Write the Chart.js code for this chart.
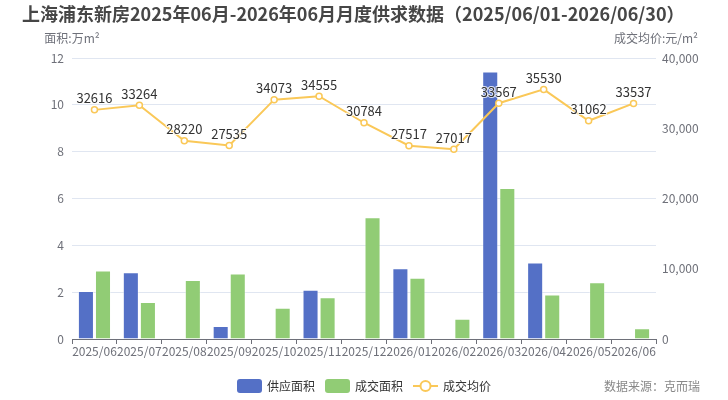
<!DOCTYPE html>
<html>
<head>
<meta charset="utf-8">
<script src="https://cdn.jsdelivr.net/npm/chart.js@4/dist/chart.umd.min.js"></script>
<style>
    html, body { margin: 0; padding: 0; background: #fff; }
    #wrap { width: 728px; height: 400px; }
</style>
</head>
<body>
<div id="wrap"><canvas id="myChart" width="728" height="400"></canvas></div>
<script>
const months = ['2025/06', '2025/07', '2025/08', '2025/09', '2025/10', '2025/11', '2025/12',
    '2026/01', '2026/02', '2026/03', '2026/04', '2026/05', '2026/06']
const supplyArea = [2.05, 2.85, 0, 0.56, 0.02, 2.1, 0.02, 3.02, 0, 11.42, 3.27, 0, 0]
const dealArea = [2.92, 1.58, 2.52, 2.8, 1.33, 1.78, 5.2, 2.62, 0.86, 6.45, 1.9, 2.42, 0.46]
const avgPrice = [32616, 33264, 28220, 27535, 34073, 34555, 30784, 27517, 27017, 33567, 35530, 31062, 33537]

const titleText = '上海浦东新房2025年06月-2026年06月月度供求数据（2025/06/01-2026/06/30）'
const fontFamily = '"Noto Sans CJK SC", "Noto Sans", sans-serif'
const BLUE = '#5470c6'
const GREEN = '#91cc75'
const YELLOW = '#fac858'
const AXIS_TXT = '#6e7079'

// title, axis names, point labels, legend and source note
const decorPlugin = {
    id: 'decor',
    afterDatasetsDraw(chart) {
        const ctx = chart.ctx
        ctx.save()

        // labels above line points
        const meta = chart.getDatasetMeta(2)
        ctx.font = '13px ' + fontFamily
        ctx.textAlign = 'center'
        ctx.textBaseline = 'bottom'
        meta.data.forEach((pt, i) => {
            ctx.lineWidth = 2
            ctx.strokeStyle = 'rgba(255,255,255,0.8)'
            ctx.strokeText(avgPrice[i], pt.x, pt.y - 5)
            ctx.fillStyle = '#333'
            ctx.fillText(avgPrice[i], pt.x, pt.y - 5)
        })
        ctx.restore()
    },
    afterDraw(chart) {
        const ctx = chart.ctx
        const area = chart.chartArea
        ctx.save()

        ctx.fillStyle = '#464646'
        ctx.font = 'bold 18px ' + fontFamily
        ctx.textAlign = 'left'
        ctx.textBaseline = 'middle'
        ctx.fillText(titleText, 22, 14)

        ctx.fillStyle = AXIS_TXT
        ctx.font = '12px ' + fontFamily
        ctx.textAlign = 'center'
        ctx.fillText('面积:万m²', area.left, 38)
        ctx.fillText('成交均价:元/m²', area.right, 38)

        // legend
        const ly = 386
        ctx.textAlign = 'left'
        ctx.fillStyle = BLUE
        ctx.beginPath()
        ctx.roundRect(237, ly - 7, 25, 14, 3)
        ctx.fill()
        ctx.fillStyle = '#333'
        ctx.fillText('供应面积', 267, ly)

        ctx.fillStyle = GREEN
        ctx.beginPath()
        ctx.roundRect(325, ly - 7, 25, 14, 3)
        ctx.fill()
        ctx.fillStyle = '#333'
        ctx.fillText('成交面积', 355, ly)

        ctx.strokeStyle = YELLOW
        ctx.lineWidth = 2
        ctx.beginPath()
        ctx.moveTo(413, ly)
        ctx.lineTo(438, ly)
        ctx.stroke()
        ctx.fillStyle = '#fff'
        ctx.beginPath()
        ctx.arc(425.5, ly, 5, 0, Math.PI * 2)
        ctx.fill()
        ctx.stroke()
        ctx.fillStyle = '#333'
        ctx.fillText('成交均价', 443, ly)

        ctx.fillStyle = '#888'
        ctx.textAlign = 'right'
        ctx.fillText('数据来源：克而瑞', 700, ly)
        ctx.restore()
    }
}

const ctx = document.getElementById('myChart').getContext('2d')
new Chart(ctx, {
    type: 'bar',
    data: {
        labels: months,
        datasets: [{
            label: '供应面积',
            data: supplyArea,
            backgroundColor: BLUE,
            borderColor: 'rgba(255,255,255,0.35)',
            borderWidth: 1,
            yAxisID: 'y',
            order: 2,
            barPercentage: 0.94,
            categoryPercentage: 0.76
        }, {
            label: '成交面积',
            data: dealArea,
            backgroundColor: GREEN,
            borderColor: 'rgba(255,255,255,0.35)',
            borderWidth: 1,
            yAxisID: 'y',
            order: 2,
            barPercentage: 0.94,
            categoryPercentage: 0.76
        }, {
            type: 'line',
            label: '成交均价',
            data: avgPrice,
            borderColor: YELLOW,
            borderWidth: 2,
            pointRadius: 3,
            pointBorderWidth: 1.5,
            pointBackgroundColor: '#fff',
            pointBorderColor: YELLOW,
            tension: 0,
            yAxisID: 'y1',
            order: 1
        }]
    },
    options: {
        responsive: false,
        animation: false,
        maintainAspectRatio: false,
        layout: { padding: { top: 58, bottom: 36, left: 0, right: 0 } },
        plugins: {
            legend: { display: false },
            title: { display: false },
            tooltip: { enabled: false }
        },
        scales: {
            x: {
                offset: true,
                grid: {
                    display: true,
                    offset: true,
                    drawOnChartArea: false,
                    drawTicks: true,
                    tickLength: 5,
                    color: AXIS_TXT
                },
                border: { display: true, color: AXIS_TXT, width: 1 },
                ticks: {
                    color: AXIS_TXT,
                    font: { size: 12, family: fontFamily },
                    maxRotation: 0,
                    autoSkip: false,
                    padding: 0
                },
                afterFit(scale) { scale.height = 25 }
            },
            y: {
                position: 'left',
                min: 0,
                max: 12,
                ticks: {
                    stepSize: 2,
                    color: AXIS_TXT,
                    padding: 8,
                    font: { size: 12, family: fontFamily }
                },
                grid: { color: '#e0e6f1', drawTicks: false },
                border: { display: false },
                afterFit(scale) { scale.width = 72 }
            },
            y1: {
                position: 'right',
                min: 0,
                max: 40000,
                ticks: {
                    stepSize: 10000,
                    color: AXIS_TXT,
                    padding: 6,
                    font: { size: 12, family: fontFamily },
                    callback: v => v.toLocaleString('en-US')
                },
                grid: { drawOnChartArea: false, drawTicks: false },
                border: { display: false },
                afterFit(scale) { scale.width = 72 }
            }
        }
    },
    plugins: [decorPlugin]
})
</script>
</body>
</html>
